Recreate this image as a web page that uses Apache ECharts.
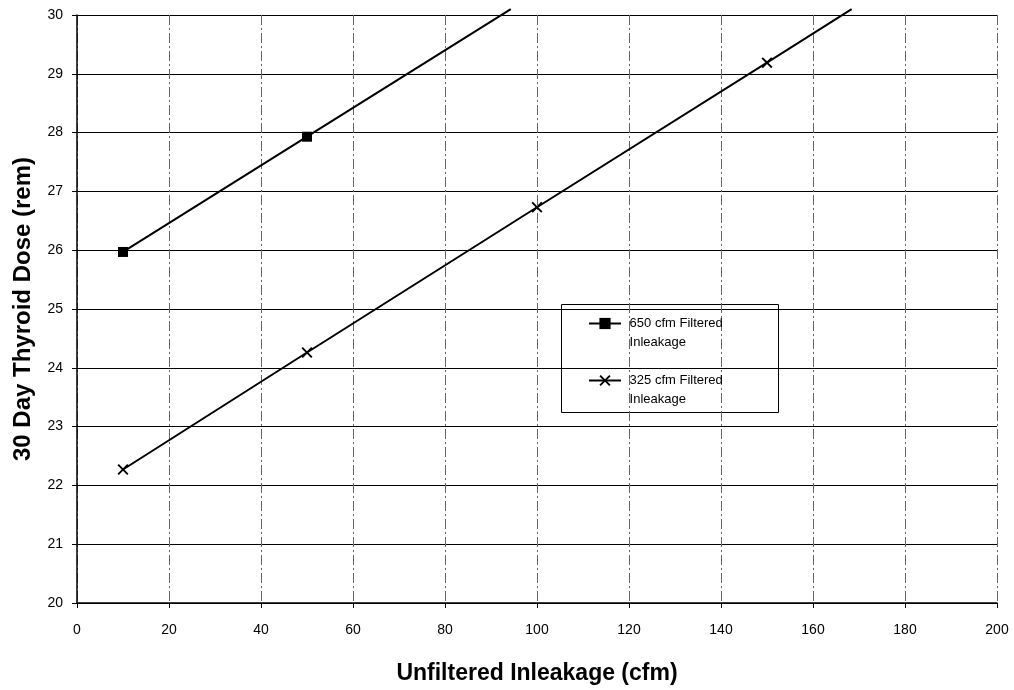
<!DOCTYPE html>
<html>
<head>
<meta charset="utf-8">
<script src="https://cdn.jsdelivr.net/npm/echarts@6/dist/echarts.min.js"></script>
<style>html,body{margin:0;padding:0;background:#fff;}#c{width:1014px;height:690px;}</style>
</head>
<body>
<div id="c"></div>
<script>
const seriesNames = ['650 cfm Filtered\nInleakage', '325 cfm Filtered\nInleakage'];
const x650 = [10, 50];
const y650 = [25.97, 27.93];
const end650 = [94.3, 30.1];
const x325 = [10, 50, 100, 150];
const y325 = [22.27, 24.26, 26.73, 29.19];
const end325 = [168.4, 30.1];
const xTicks = [0, 20, 40, 60, 80, 100, 120, 140, 160, 180, 200];
const yTicks = [20, 21, 22, 23, 24, 25, 26, 27, 28, 29, 30];

function build(xs, ys, end) {
  const d = xs.map((x, i) => [x, ys[i]]);
  d.push({ value: end, symbol: 'none' });
  return d;
}
const crossPath = 'path://M0,1.2L1.2,0L5,3.8L8.8,0L10,1.2L6.2,5L10,8.8L8.8,10L5,6.2L1.2,10L0,8.8L3.8,5Z';

const chart = echarts.init(document.getElementById('c'));
chart.setOption({
  animation: false,
  backgroundColor: '#fff',
  textStyle: { fontFamily: 'Liberation Sans, Arial, sans-serif' },
  grid: { left: 77, right: 17, top: 15, bottom: 81, containLabel: false },
  xAxis: {
    type: 'value', min: xTicks[0], max: xTicks[xTicks.length - 1], interval: 20,
    name: 'Unfiltered Inleakage (cfm)', nameLocation: 'middle', nameGap: 59,
    nameTextStyle: { fontSize: 23, fontWeight: 'bold', color: '#000' },
    axisLine: { lineStyle: { color: '#000', width: 1.5 } },
    axisTick: { show: true, length: 5, lineStyle: { color: '#000' } },
    axisLabel: { color: '#000', fontSize: 14, margin: 20 },
    splitLine: { show: true, lineStyle: { color: '#666', width: 1, type: [10, 3, 2, 3] } }
  },
  yAxis: {
    type: 'value', min: yTicks[0], max: yTicks[yTicks.length - 1], interval: 1,
    name: '30 Day Thyroid Dose (rem)', nameLocation: 'middle', nameGap: 42, nameRotate: 90,
    nameTextStyle: { fontSize: 24, fontWeight: 'bold', color: '#000' },
    axisLine: { show: true, lineStyle: { color: '#000', width: 1.5 } },
    axisTick: { show: true, length: 5, lineStyle: { color: '#000' } },
    axisLabel: { color: '#000', fontSize: 14, margin: 14 },
    splitLine: { show: true, lineStyle: { color: '#000', width: 1.2 } }
  },
  legend: {
    orient: 'vertical', left: 588, top: 295, padding: 0, itemGap: 0, z: 10,
    itemWidth: 32, itemHeight: 14,
    formatter: name => ' \n' + name.split('\n').map(s => ' ' + s).join('\n'),
    textStyle: { fontSize: 13, color: '#000', lineHeight: 19 },
    data: seriesNames
  },
  graphic: [{
    type: 'rect', left: 561, top: 304, z: -10,
    shape: { width: 217, height: 108 },
    style: { fill: '#fff', stroke: '#000', lineWidth: 1 }
  }],
  series: [
    {
      name: seriesNames[0], type: 'line', data: build(x650, y650, end650),
      clip: false, symbol: 'rect', symbolSize: 10, showAllSymbol: true,
      lineStyle: { color: '#000', width: 2 }, itemStyle: { color: '#000' }, z: 5
    },
    {
      name: seriesNames[1], type: 'line', data: build(x325, y325, end325),
      clip: false, symbol: crossPath, symbolSize: 11, showAllSymbol: true,
      lineStyle: { color: '#000', width: 2 }, itemStyle: { color: '#000' }, z: 5
    }
  ]
});
</script>
</body>
</html>
